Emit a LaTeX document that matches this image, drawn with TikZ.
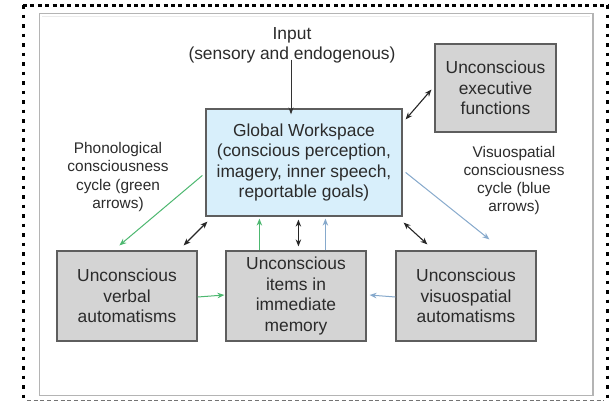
\documentclass[tikz,border=0pt]{standalone}
\usepackage{fontspec}
\setmainfont{Liberation Sans}
\usetikzlibrary{arrows.meta}
\definecolor{txt}{HTML}{2B2B2B}
\definecolor{gwfill}{HTML}{D8EFFB}
\definecolor{boxfill}{HTML}{D4D4D4}
\definecolor{boxline}{HTML}{5E5E5E}
\definecolor{grn}{HTML}{4DB870}
\definecolor{blu}{HTML}{86A9CC}
\definecolor{framec}{HTML}{B4B4B4}
\begin{document}
\begin{tikzpicture}[x=1pt,y=-1pt,
  txtfont/.style={font=\fontsize{17.4}{20.4}\selectfont, text=txt},
  sidefont/.style={font=\fontsize{15.4}{18.2}\selectfont, text=txt},
  gwbox/.style={draw=boxline, line width=1.2pt, fill=gwfill, inner sep=0pt, align=center, txtfont},
  graybox/.style={draw=boxline, line width=1.2pt, fill=boxfill, inner sep=0pt, align=center, txtfont},
  label/.style={inner sep=0pt, align=center},
  blk/.style={draw=black!85, line width=1.1pt, {Stealth[length=7pt,width=5.5pt]}-{Stealth[length=7pt,width=5.5pt]}},
  blkone/.style={draw=black!80, line width=1pt, -{Stealth[length=7pt,width=5pt]}},
  garr/.style={draw=grn, line width=1pt, -{Stealth[length=7pt,width=5.5pt]}},
  barr/.style={draw=blu, line width=1pt, -{Stealth[length=7pt,width=5.5pt]}}
]
\useasboundingbox (0,0) rectangle (609,402);
\fill[white] (0,0) rectangle (609,402);
% outer border
\draw[black, line width=3pt, dash pattern=on 4pt off 3.4pt] (23,5) -- (608,5);
\draw[black, line width=3pt, dash pattern=on 3.5pt off 6pt] (23,5) -- (23,402);
\draw[black, line width=3pt, dash pattern=on 3.5pt off 6pt] (607,5) -- (607,402);
\draw[black!55, line width=1pt, dash pattern=on 4pt off 2.7pt] (27,400.5) -- (604,400.5);
% inner frame
\draw[framec, line width=1.2pt, fill=white] (39.5,13.5) rectangle (593,395.5);
\draw[black!8, line width=1pt] (42,16) -- (590,16);

% nodes
\node[gwbox, minimum width=196pt, minimum height=107pt] (gw) at (304,162.5)
  {Global Workspace\\(conscious perception,\\imagery, inner speech,\\reportable goals)};
\node[graybox, minimum width=121pt, minimum height=88pt] (exec) at (495.5,88)
  {Unconscious\\executive\\functions};
\node[graybox, minimum width=140pt, minimum height=90pt] (verbal) at (127,296)
  {Unconscious\\verbal\\automatisms};
\node[graybox, minimum width=140pt, minimum height=90pt] (items) at (296,296)
  {Unconscious\\items in\\immediate\\memory};
\node[graybox, minimum width=140pt, minimum height=90pt] (visuo) at (466,296)
  {Unconscious\\visuospatial\\automatisms};
\node[label, txtfont] (input) at (292,45.5) {Input\\(sensory and endogenous)};
\node[label, sidefont] (phon) at (118,177) {Phonological\\consciousness\\cycle (green\\arrows)};
\node[label, sidefont] (vslab) at (514,180.5) {Visuospatial\\consciousness\\cycle (blue\\arrows)};

% connectors
\draw[blkone] ([yshift=4pt]input.south -| 291,0) -- ([yshift=-6pt]gw.north -| 291,0);
\draw[blk] ([shift={(3,11)}]gw.north east) -- ([shift={(-3,-43)}]exec.south west);
\draw[garr] ([shift={(-3,67)}]gw.north west) -- ([shift={(63,-5)}]verbal.north west);
\draw[blk] ([shift={(2,5)}]gw.south west) -- ([shift={(-14,-5)}]verbal.north east);
\draw[garr] ([xshift=34pt]items.north west) -- ([shift={(54,2)}]gw.south west);
\draw[blk] ([shift={(93,3)}]gw.south west) -- ([shift={(73,-4)}]items.north west);
\draw[barr] ([xshift=100pt]items.north west) -- ([shift={(120,2)}]gw.south west);
\draw[barr] ([shift={(3,64)}]gw.north east) -- ([shift={(94,-11)}]visuo.north west);
\draw[blk] ([shift={(1,6)}]gw.south east) -- ([shift={(32,-6)}]visuo.north west);
\draw[garr] ([yshift=-1pt]verbal.east) -- ([shift={(-1,-1)}]items.west);
\draw[barr] ([yshift=-1pt]visuo.west) -- ([shift={(3,-1)}]items.east);
\end{tikzpicture}
\end{document}
